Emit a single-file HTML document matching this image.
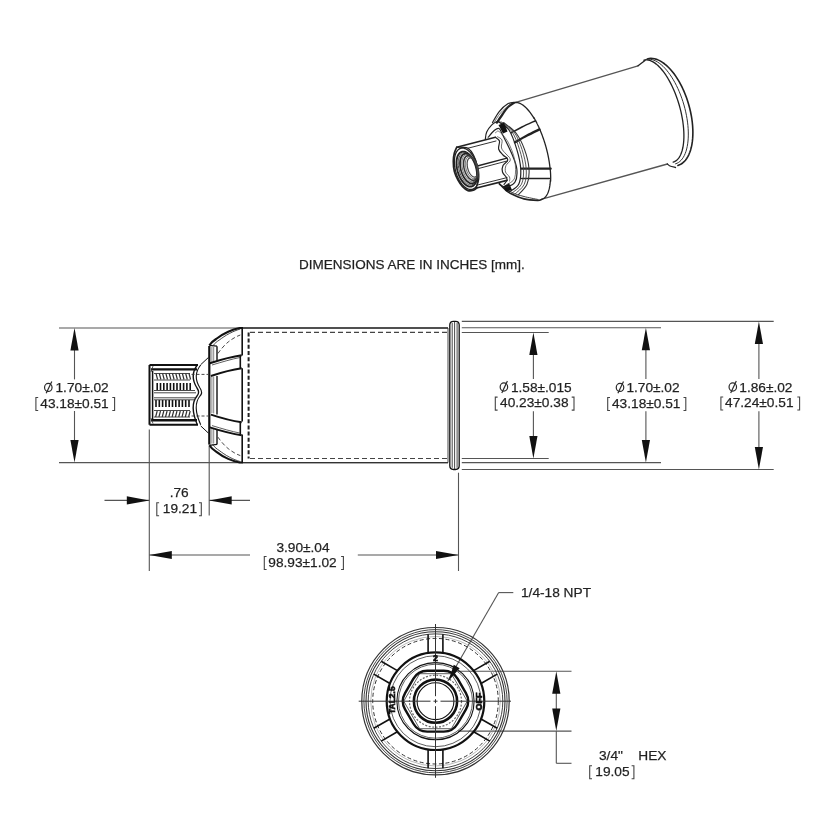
<!DOCTYPE html>
<html><head><meta charset="utf-8"><style>
html,body{margin:0;padding:0;background:#fff;width:826px;height:826px;overflow:hidden}
svg{display:block;will-change:transform}
text{font-family:"Liberation Sans",sans-serif;fill:#1e1e1e;stroke:#2a2a2a;stroke-width:0.25}
.d{stroke:#555;stroke-width:1.1;fill:none}
.o{stroke:#111;stroke-width:1.3;fill:none}
.ob{stroke:#111;stroke-width:2;fill:none}
.t{stroke:#333;stroke-width:0.8;fill:none}
.dash{stroke:#333;stroke-width:1.2;fill:none;stroke-dasharray:5 3}
.ah{fill:#111;stroke:none}
</style></head><body>
<svg width="826" height="826" viewBox="0 0 826 826">
<rect width="826" height="826" fill="#fff"/>

<text x="299.00" y="268.80" font-size="13.5" text-anchor="start" >DIMENSIONS ARE IN INCHES [mm].</text>
<line class="d" x1="59.00" y1="328.00" x2="448.00" y2="328.00"/>
<line class="d" x1="59.00" y1="462.60" x2="448.00" y2="462.60"/>
<line class="d" x1="74.50" y1="338.00" x2="74.50" y2="379.40"/>
<line class="d" x1="74.50" y1="411.00" x2="74.50" y2="452.60"/>
<path class="ah" d="M74.50 328.00 L78.60 350.50 L70.40 350.50Z"/>
<path class="ah" d="M74.50 462.60 L70.40 440.10 L78.60 440.10Z"/>
<ellipse cx="48.30" cy="387.40" rx="3.75" ry="4.05" style="stroke:#2a2a2a;stroke-width:1.2;fill:none"/>
<line x1="46.20" y1="393.30" x2="51.80" y2="381.40" style="stroke:#2a2a2a;stroke-width:1.2"/>
<text x="55.50" y="392.00" font-size="13.7" text-anchor="start" >1.70±.02</text>
<path d="M38.20 397.50 H35.90 V410.50 H38.20" style="stroke:#444;stroke-width:1.1;fill:none"/>
<text x="40.30" y="407.70" font-size="13.7" text-anchor="start" >43.18±0.51</text>
<path d="M112.30 397.50 H114.60 V410.50 H112.30" style="stroke:#444;stroke-width:1.1;fill:none"/>
<line class="d" x1="461.80" y1="321.40" x2="773.70" y2="321.40"/>
<line class="d" x1="461.80" y1="327.70" x2="661.00" y2="327.70"/>
<line class="d" x1="461.80" y1="332.50" x2="548.70" y2="332.50"/>
<line class="d" x1="461.80" y1="458.50" x2="548.70" y2="458.50"/>
<line class="d" x1="461.80" y1="462.60" x2="661.00" y2="462.60"/>
<line class="d" x1="461.80" y1="469.50" x2="773.70" y2="469.50"/>
<line class="d" x1="533.40" y1="342.50" x2="533.40" y2="379.00"/>
<line class="d" x1="533.40" y1="411.30" x2="533.40" y2="448.50"/>
<path class="ah" d="M533.40 332.50 L537.50 355.00 L529.30 355.00Z"/>
<path class="ah" d="M533.40 458.50 L529.30 436.00 L537.50 436.00Z"/>
<line class="d" x1="645.90" y1="337.70" x2="645.90" y2="379.00"/>
<line class="d" x1="645.90" y1="411.30" x2="645.90" y2="452.60"/>
<path class="ah" d="M645.90 327.70 L650.00 350.20 L641.80 350.20Z"/>
<path class="ah" d="M645.90 462.60 L641.80 440.10 L650.00 440.10Z"/>
<line class="d" x1="758.90" y1="331.40" x2="758.90" y2="379.00"/>
<line class="d" x1="758.90" y1="411.30" x2="758.90" y2="459.50"/>
<path class="ah" d="M758.90 321.40 L763.00 343.90 L754.80 343.90Z"/>
<path class="ah" d="M758.90 469.50 L754.80 447.00 L763.00 447.00Z"/>
<ellipse cx="503.90" cy="387.00" rx="3.75" ry="4.05" style="stroke:#2a2a2a;stroke-width:1.2;fill:none"/>
<line x1="501.80" y1="392.90" x2="507.40" y2="381.00" style="stroke:#2a2a2a;stroke-width:1.2"/>
<text x="510.90" y="391.60" font-size="13.7" text-anchor="start" >1.58±.015</text>
<path d="M497.60 397.10 H495.30 V410.10 H497.60" style="stroke:#444;stroke-width:1.1;fill:none"/>
<text x="500.10" y="407.30" font-size="13.7" text-anchor="start" >40.23±0.38</text>
<path d="M571.70 397.10 H574.00 V410.10 H571.70" style="stroke:#444;stroke-width:1.1;fill:none"/>
<ellipse cx="620.00" cy="387.40" rx="3.75" ry="4.05" style="stroke:#2a2a2a;stroke-width:1.2;fill:none"/>
<line x1="617.90" y1="393.30" x2="623.50" y2="381.40" style="stroke:#2a2a2a;stroke-width:1.2"/>
<text x="626.40" y="392.00" font-size="13.7" text-anchor="start" >1.70±.02</text>
<path d="M610.00 397.50 H607.70 V410.50 H610.00" style="stroke:#444;stroke-width:1.1;fill:none"/>
<text x="612.00" y="407.70" font-size="13.7" text-anchor="start" >43.18±0.51</text>
<path d="M683.50 397.50 H685.80 V410.50 H683.50" style="stroke:#444;stroke-width:1.1;fill:none"/>
<ellipse cx="732.80" cy="387.00" rx="3.75" ry="4.05" style="stroke:#2a2a2a;stroke-width:1.2;fill:none"/>
<line x1="730.70" y1="392.90" x2="736.30" y2="381.00" style="stroke:#2a2a2a;stroke-width:1.2"/>
<text x="739.30" y="391.60" font-size="13.7" text-anchor="start" >1.86±.02</text>
<path d="M723.20 397.00 H720.90 V410.00 H723.20" style="stroke:#444;stroke-width:1.1;fill:none"/>
<text x="725.10" y="407.20" font-size="13.7" text-anchor="start" >47.24±0.51</text>
<path d="M797.30 397.00 H799.60 V410.00 H797.30" style="stroke:#444;stroke-width:1.1;fill:none"/>
<line class="d" x1="149.30" y1="429.50" x2="149.30" y2="571.00"/>
<line class="d" x1="209.20" y1="446.00" x2="209.20" y2="515.50"/>
<line class="d" x1="104.50" y1="500.40" x2="149.30" y2="500.40"/>
<path class="ah" d="M149.30 500.40 L126.80 504.50 L126.80 496.30Z"/>
<line class="d" x1="209.20" y1="500.40" x2="250.00" y2="500.40"/>
<path class="ah" d="M209.20 500.40 L231.70 496.30 L231.70 504.50Z"/>
<text x="169.70" y="497.40" font-size="13.7" text-anchor="start" >.76</text>
<path d="M159.10 502.80 H156.80 V515.80 H159.10" style="stroke:#444;stroke-width:1.1;fill:none"/>
<text x="162.80" y="513.00" font-size="13.7" text-anchor="start" >19.21</text>
<path d="M199.00 502.80 H201.30 V515.80 H199.00" style="stroke:#444;stroke-width:1.1;fill:none"/>
<line class="d" x1="458.50" y1="472.70" x2="458.50" y2="571.00"/>
<line class="d" x1="149.30" y1="555.00" x2="250.00" y2="555.00"/>
<path class="ah" d="M149.30 555.00 L171.80 550.90 L171.80 559.10Z"/>
<line class="d" x1="357.80" y1="555.00" x2="458.50" y2="555.00"/>
<path class="ah" d="M458.50 555.00 L436.00 559.10 L436.00 550.90Z"/>
<text x="276.40" y="551.70" font-size="13.7" text-anchor="start" >3.90±.04</text>
<path d="M266.60 556.50 H264.30 V569.50 H266.60" style="stroke:#444;stroke-width:1.1;fill:none"/>
<text x="268.30" y="566.70" font-size="13.7" text-anchor="start" >98.93±1.02</text>
<path d="M341.10 556.50 H343.40 V569.50 H341.10" style="stroke:#444;stroke-width:1.1;fill:none"/>
<text x="521.00" y="596.60" font-size="13.7" text-anchor="start" >1/4-18 NPT</text>
<line class="d" x1="513.30" y1="592.60" x2="498.70" y2="592.60"/>
<line class="d" x1="498.70" y1="592.60" x2="447.80" y2="680.80"/>
<line class="d" x1="458.00" y1="671.30" x2="571.50" y2="671.30"/>
<line class="d" x1="458.00" y1="731.10" x2="571.50" y2="731.10"/>
<line class="d" x1="556.30" y1="690.00" x2="556.30" y2="712.00"/>
<path class="ah" d="M556.30 671.30 L560.40 693.80 L552.20 693.80Z"/>
<path class="ah" d="M556.30 731.10 L552.20 708.60 L560.40 708.60Z"/>
<line class="d" x1="556.30" y1="731.10" x2="556.30" y2="763.30"/>
<line class="d" x1="556.30" y1="763.30" x2="571.50" y2="763.30"/>
<text x="599.00" y="759.80" font-size="13.7" text-anchor="start" >3/4"</text>
<text x="638.30" y="759.80" font-size="13.7" text-anchor="start" >HEX</text>
<path d="M592.00 765.70 H589.70 V778.70 H592.00" style="stroke:#444;stroke-width:1.1;fill:none"/>
<text x="595.30" y="775.90" font-size="13.7" text-anchor="start" >19.05</text>
<path d="M631.60 765.70 H633.90 V778.70 H631.60" style="stroke:#444;stroke-width:1.1;fill:none"/>
<path class="dash" d="M250 332.4 H448 M250 458.5 H448" style="stroke-dasharray:5 3;stroke-width:1.2;stroke:#444"/>
<path class="dash" d="M248.6 332.4 V458.5" style="stroke-dasharray:4 2.2;stroke-width:2.0;stroke:#222"/>
<path class="o" d="M243 328 H448 M243 462.6 H448" style="stroke-width:1.3;stroke:#333"/>
<path class="o" d="M242.2 328 V355.4 M242.2 368.3 V421.4 M242.2 434.5 V462.6" style="stroke-width:1.6"/>
<path class="o" d="M240.3 355.4 V368.3 M240.3 421.4 V434.5" style="stroke-width:1.6"/>
<path class="ob" d="M209.3 346 V444.6" style="stroke-width:2.2"/>
<path class="t" d="M211.9 347 V362.8 M213.7 347 V362.3 M211.9 428 V443.6 M213.7 428.5 V443.6 M211.9 377 V413 M213.7 376.6 V413.4" style="stroke-width:0.9;stroke:#777"/>
<path class="o" d="M217 346.2 V361.3 M217 429.3 V444.4 M217 376 V414.6" style="stroke-width:1.4"/>
<path class="o" d="M209.4 345.3 L217 346.2 M209.4 445.3 L217 444.4" style="stroke-width:1.3"/>
<path class="ob" d="M209.4 345.3 C211 342.5 213 341 216.1 339 C220 336 224 333.5 228.2 331.7 C232 330 236 328.8 239.7 328.05 H243" style="stroke-width:2.1"/>
<path class="t" d="M212.5 346.2 C215 343 217 341.5 219.1 340.2 C222 338 225.5 335.5 229.4 333.5 C233 331.5 237 330 240.3 329" style="stroke-width:0.9"/>
<path class="ob" d="M209.4 445.3 C211 448.1 213 449.6 216.1 451.6 C220 454.6 224 457.1 228.2 458.9 C232 460.6 236 461.8 239.7 462.55 H243" style="stroke-width:2.1"/>
<path class="t" d="M212.5 444.4 C215 447.6 217 449.1 219.1 450.4 C222 452.6 225.5 455.1 229.4 457.1 C233 459.1 237 460.6 240.3 461.6" style="stroke-width:0.9"/>
<path class="dash" d="M217.9 353.5 C221 349 225 344.5 228.2 342 C232 339 236 336.5 240.3 335" style="stroke-width:0.9;stroke-dasharray:4 2.5"/>
<path class="dash" d="M217.9 437.1 C221 441.6 225 446.1 228.2 448.6 C232 451.6 236 454.1 240.3 455.6" style="stroke-width:0.9;stroke-dasharray:4 2.5"/>
<path class="ob" d="M209.8 363.2 C220 360 230 357 241.7 355.3" />
<path class="ob" d="M210.9 376 C220 373 230 370 241.7 368.3" />
<path class="ob" d="M209.8 427.4 C220 430.6 230 433.6 241.7 435.3" />
<path class="ob" d="M210.9 414.6 C220 417.6 230 420.6 241.7 422.3" />
<path class="t" d="M212 365 C222 362 232 359 240 357.5" />
<path class="t" d="M212 425.6 C222 428.6 232 431.6 240 433.1" />
<path class="o" d="M200.7 364.7 L208.5 357.4 M200.7 425.9 L208.5 433.2" style="stroke-width:1.0"/>
<path class="ob" d="M149.5 364.9 H198 M149.5 424.7 H198 M149.5 364.9 V424.7" />
<path class="ob" d="M151 369.4 H197 M151 420.3 H197" style="stroke-width:2.4"/>
<path class="t" d="M151 372 L153 366 M151 418 L153 423.6" />
<path class="o" d="M197.3 365 C192 372 192 380 197 388 C199 391 199 394 197 396 C192 402 192 412 197.3 424.7" style="stroke-width:1.4"/>
<path class="o" d="M200.7 365 C195 372 195 380 200 388 C202 391 202 394 200 396 C195 402 195 412 200.7 424.7" style="stroke-width:1.1"/>
<path class="dash" d="M191.5 374.4 H208 M191.5 416 H208" style="stroke-width:0.9;stroke-dasharray:3 2"/>
<path class="o" d="M157.2 383 V390 M156.0 400 V407 M160.5 383 V390 M159.3 400 V407 M163.8 383 V390 M162.6 400 V407 M167.1 383 V390 M165.9 400 V407 M170.4 383 V390 M169.2 400 V407 M173.7 383 V390 M172.5 400 V407 M177.0 383 V390 M175.8 400 V407 M180.3 383 V390 M179.1 400 V407 M183.6 383 V390 M182.4 400 V407 M186.9 383 V390 M185.7 400 V407 M190.2 383 V390 M189.0 400 V407" style="stroke-width:1.6"/>
<path class="o" d="M156.0 373.5 L157.6 379.5 M157.2 411 L155.6 417 M159.3 373.5 L160.9 379.5 M160.5 411 L158.9 417 M162.6 373.5 L164.2 379.5 M163.8 411 L162.2 417 M165.9 373.5 L167.5 379.5 M167.1 411 L165.5 417 M169.2 373.5 L170.8 379.5 M170.4 411 L168.8 417 M172.5 373.5 L174.1 379.5 M173.7 411 L172.1 417 M175.8 373.5 L177.4 379.5 M177.0 411 L175.4 417 M179.1 373.5 L180.7 379.5 M180.3 411 L178.7 417 M182.4 373.5 L184.0 379.5 M183.6 411 L182.0 417 M185.7 373.5 L187.3 379.5 M186.9 411 L185.3 417 M189.0 373.5 L190.6 379.5 M190.2 411 L188.6 417" style="stroke-width:1.2;stroke:#333"/>
<path class="t" d="M154 373.5 H190 M154 380 H190 M154 390.5 H195 M154 392.8 H196 M154 397.8 H196 M154 399.8 H195 M154 410.5 H190 M154 417 H190" style="stroke-width:0.9"/>
<path class="o" d="M152.6 371 V419" style="stroke-width:1.5"/>
<path class="o" d="M449.8 462.6 V325 Q449.8 321.3 453.5 321.3 H455.5 Q459.2 321.3 459.2 325 V465.8 Q459.2 469.5 455.5 469.5 H453.5 Q449.8 469.5 449.8 465.8 V462.6" style="stroke-width:1.3"/>
<path class="t" d="M448 328 V462.6 M452.2 323 V467.8 M454.6 322 V469 M457.1 323 V467.8" style="stroke-width:0.9"/>
<circle class="o" cx="435.5" cy="701.2" r="73.7" style="stroke-width:1.2;stroke:#333"/>
<circle class="t" cx="435.5" cy="701.2" r="71.6" style="stroke-width:1.0;stroke:#444"/>
<circle class="o" cx="435.5" cy="701.2" r="69.5" style="stroke-width:1.1;stroke:#333"/>
<circle class="t" cx="435.5" cy="701.2" r="67.3" style="stroke-width:1.0;stroke:#444"/>
<circle class="t" cx="435.5" cy="701.2" r="64.8" style="stroke-width:0.6;stroke:#888"/>
<circle class="dash" cx="435.5" cy="701.2" r="62.8" style="stroke-width:1.0;stroke-dasharray:4 2.5"/>
<path class="o" d="M442.90 652.40 L442.90 634.20 M428.10 652.40 L428.10 634.20 M481.46 683.21 L497.22 674.11 M474.06 670.39 L489.82 661.29 M474.06 732.01 L489.82 741.11 M481.46 719.19 L497.22 728.29 M428.10 750.00 L428.10 768.20 M442.90 750.00 L442.90 768.20 M389.54 719.19 L373.78 728.29 M396.94 732.01 L381.18 741.11 M396.94 670.39 L381.18 661.29 M389.54 683.21 L373.78 674.11" style="stroke-width:1.6"/>
<circle class="o" cx="435.5" cy="701.2" r="48.8" style="stroke-width:2.2"/>
<circle class="t" cx="435.5" cy="701.2" r="45.5" style="stroke-width:0.8"/>
<circle class="o" cx="435.5" cy="701.2" r="38.6" style="stroke-width:1.1"/>
<circle class="t" cx="435.5" cy="701.2" r="37.0" style="stroke-width:0.8"/>
<path class="ob" d="M465.93 709.30 L457.73 723.50 Q453.05 731.60 443.70 731.60 L427.30 731.60 Q417.95 731.60 413.27 723.50 L405.07 709.30 Q400.40 701.20 405.07 693.10 L413.27 678.90 Q417.95 670.80 427.30 670.80 L443.70 670.80 Q453.05 670.80 457.73 678.90 L465.93 693.10 Q470.60 701.20 465.93 709.30 Z" style="stroke-width:2.4"/>
<path class="t" d="M467.25 701.20 L451.38 728.70 L419.62 728.70 L403.75 701.20 L419.62 673.70 L451.38 673.70Z" style="stroke-width:0.8"/>
<circle class="dash" cx="435.5" cy="701.2" r="26.0" style="stroke-width:1.2;stroke-dasharray:2 1.5;stroke:#666"/>
<circle class="ob" cx="435.5" cy="701.2" r="21.6" style="stroke-width:2.6"/>
<circle class="o" cx="435.5" cy="701.2" r="18.4" style="stroke-width:1.1"/>
<path class="d" d="M358.7 701.2 H430.5 M433.5 701.2 H437.5 M440.5 701.2 H511 M435.5 624 V696.2 M435.5 699.2 V703.2 M435.5 706.2 V777.8" style="stroke:#333;stroke-width:1.0"/>
<path class="ah" d="M448.30 681.30 L453.76 664.85 L459.67 668.21Z"/>
<text x="435.5" y="661" font-size="9" font-weight="bold" text-anchor="middle" style="fill:#111;stroke:#111;stroke-width:0.6">2</text>
<text x="0" y="0" font-size="8.5" font-weight="bold" text-anchor="middle" transform="translate(395.3 700.2) rotate(-90)" style="fill:#111;stroke:#111;stroke-width:0.6">TAL2.5</text>
<text x="0" y="0" font-size="9" font-weight="bold" text-anchor="middle" transform="translate(482.2 701.4) rotate(-90)" style="fill:#111;stroke:#111;stroke-width:0.6">OFF</text>
<path d="M514.10 102.80 L638.00 65.80" style="fill:none;stroke:#555;stroke-width:1.3;stroke-linecap:round"/>
<path d="M541.90 199.20 L667.40 164.00" style="fill:none;stroke:#555;stroke-width:1.3;stroke-linecap:round"/>
<path d="M643.99 60.25 L645.37 59.97 L646.81 59.92 L648.30 60.08 L649.84 60.46 L651.41 61.05 L653.01 61.86 L654.64 62.89 L656.28 64.12 L657.94 65.55 L659.59 67.17 L661.24 68.99 L662.88 70.98 L664.51 73.15 L666.10 75.48 L667.67 77.97 L669.19 80.59 L670.67 83.35 L672.10 86.23 L673.47 89.21 L674.78 92.29 L676.02 95.45 L677.18 98.67 L678.27 101.95 L679.27 105.27 L680.18 108.62 L681.00 111.97 L681.72 115.33 L682.34 118.66 L682.87 121.96 L683.28 125.22 L683.60 128.42 L683.80 131.54 L683.90 134.58 L683.89 137.51 L683.77 140.34 L683.54 143.03 L683.21 145.60 L682.77 148.01 L682.23 150.27 L681.59 152.36 L680.84 154.27 L680.01 156.00 L679.08 157.54 L678.06 158.88 L676.96 160.01 L675.78 160.94 L674.53 161.65 L673.21 162.15" style="fill:none;stroke:#222;stroke-width:1.3;stroke-linejoin:round;stroke-linecap:round"/>
<path d="M645.66 59.60 L647.22 59.27 L648.84 59.17 L650.50 59.29 L652.22 59.64 L653.96 60.21 L655.74 61.00 L657.53 62.01 L659.34 63.23 L661.16 64.66 L662.97 66.29 L664.77 68.11 L666.55 70.12 L668.31 72.31 L670.04 74.67 L671.72 77.19 L673.36 79.85 L674.94 82.65 L676.46 85.57 L677.92 88.61 L679.30 91.75 L680.60 94.97 L681.81 98.26 L682.93 101.61 L683.96 105.00 L684.89 108.42 L685.71 111.86 L686.42 115.29 L687.03 118.71 L687.52 122.10 L687.90 125.45 L688.16 128.74 L688.30 131.95 L688.32 135.08 L688.23 138.10 L688.01 141.02 L687.68 143.80 L687.23 146.45 L686.67 148.96 L686.00 151.30 L685.22 153.47 L684.33 155.46 L683.34 157.27 L682.26 158.88 L681.08 160.29 L679.81 161.49 L678.46 162.48 L677.04 163.25 L675.54 163.80" style="fill:none;stroke:#333;stroke-width:1.0;stroke-linejoin:round;stroke-linecap:round"/>
<path d="M647.33 58.95 L649.07 58.57 L650.87 58.42 L652.72 58.51 L654.62 58.82 L656.54 59.36 L658.50 60.13 L660.47 61.12 L662.45 62.33 L664.43 63.76 L666.40 65.39 L668.36 67.22 L670.29 69.24 L672.19 71.45 L674.05 73.83 L675.86 76.38 L677.61 79.08 L679.30 81.92 L680.91 84.89 L682.45 87.98 L683.90 91.18 L685.26 94.46 L686.53 97.82 L687.69 101.24 L688.75 104.70 L689.69 108.20 L690.52 111.72 L691.22 115.24 L691.81 118.74 L692.27 122.22 L692.60 125.65 L692.80 129.03 L692.88 132.33 L692.82 135.55 L692.64 138.67 L692.33 141.68 L691.89 144.55 L691.32 147.30 L690.63 149.89 L689.82 152.31 L688.90 154.57 L687.86 156.65 L686.71 158.53 L685.46 160.22 L684.12 161.70 L682.68 162.97 L681.15 164.02 L679.55 164.85 L677.87 165.45" style="fill:none;stroke:#222;stroke-width:1.6;stroke-linejoin:round;stroke-linecap:round"/>
<path d="M638.00 65.80 C638.50 65.42 639.83 64.38 641.00 63.50 C642.17 62.62 644.33 61.00 645.00 60.50 " style="fill:none;stroke:#222;stroke-width:1.3;stroke-linecap:round;stroke-linejoin:round"/>
<path d="M667.40 164.00 C667.83 164.33 668.65 165.42 670.00 166.00 C671.35 166.58 674.58 167.25 675.50 167.50 " style="fill:none;stroke:#222;stroke-width:1.3;stroke-linecap:round;stroke-linejoin:round"/>
<path d="M514.16 102.74 L514.51 102.65 L514.87 102.58 L515.23 102.53 L515.59 102.50 L515.96 102.48 L516.34 102.48 L516.72 102.50 L517.10 102.55 L517.49 102.60 L517.88 102.68 L518.28 102.78 L518.67 102.89 L519.08 103.03 L519.48 103.18 L519.89 103.35 L520.31 103.54 L520.72 103.75 L521.14 103.97 L521.56 104.22 L521.98 104.48 L522.41 104.76 L522.84 105.05 L523.27 105.37 L523.70 105.70 L524.13 106.05 L524.57 106.42 L525.01 106.80 L525.44 107.21 L525.88 107.62 L526.32 108.06 L526.76 108.51 L527.20 108.98 L527.64 109.46 L528.08 109.96 L528.52 110.48 L528.97 111.01 L529.41 111.56 L529.85 112.12 L530.28 112.70 L530.72 113.29 L531.16 113.90 L531.60 114.52 L532.03 115.16 L532.46 115.80 L532.89 116.47 L533.32 117.14 L533.75 117.83 L534.18 118.53" style="fill:none;stroke:#222;stroke-width:1.3;stroke-linejoin:round;stroke-linecap:round"/>
<path d="M533.97 117.80 L534.11 118.04 L534.25 118.29 L534.39 118.53 L534.54 118.78 L534.68 119.03 L534.82 119.28 L534.96 119.53 L535.10 119.78 L535.24 120.04 L535.38 120.29 L535.52 120.55 L535.66 120.81 L535.80 121.07 L535.94 121.33 L536.08 121.59 L536.22 121.86 L536.36 122.12 L536.50 122.39 L536.63 122.65 L536.77 122.92 L536.91 123.19 L537.04 123.46 L537.18 123.73 L537.31 124.01 L537.45 124.28 L537.58 124.56 L537.72 124.83 L537.85 125.11 L537.99 125.39 L538.12 125.67 L538.25 125.95 L538.38 126.23 L538.52 126.51 L538.65 126.80 L538.78 127.08 L538.91 127.37 L539.04 127.66 L539.17 127.94 L539.30 128.23 L539.43 128.52 L539.55 128.82 L539.68 129.11 L539.81 129.40 L539.93 129.69 L540.06 129.99 L540.19 130.28 L540.31 130.58 L540.43 130.88" style="fill:none;stroke:#222;stroke-width:1.3;stroke-linejoin:round;stroke-linecap:round"/>
<path d="M540.55 131.26 L540.86 132.02 L541.17 132.78 L541.48 133.55 L541.78 134.33 L542.08 135.10 L542.38 135.89 L542.67 136.67 L542.96 137.46 L543.24 138.26 L543.52 139.06 L543.79 139.86 L544.06 140.66 L544.33 141.47 L544.59 142.28 L544.84 143.10 L545.09 143.91 L545.34 144.73 L545.58 145.55 L545.81 146.37 L546.04 147.19 L546.27 148.02 L546.49 148.84 L546.70 149.67 L546.91 150.49 L547.11 151.32 L547.31 152.14 L547.50 152.97 L547.69 153.79 L547.87 154.62 L548.05 155.44 L548.22 156.26 L548.38 157.08 L548.54 157.90 L548.69 158.72 L548.83 159.53 L548.97 160.34 L549.11 161.15 L549.23 161.96 L549.36 162.76 L549.47 163.56 L549.58 164.35 L549.68 165.15 L549.78 165.93 L549.87 166.72 L549.95 167.50 L550.03 168.27 L550.10 169.04 L550.17 169.80" style="fill:none;stroke:#222;stroke-width:1.3;stroke-linejoin:round;stroke-linecap:round"/>
<path d="M550.34 170.40 L550.36 170.64 L550.38 170.88 L550.40 171.12 L550.42 171.36 L550.43 171.60 L550.45 171.83 L550.47 172.07 L550.48 172.31 L550.50 172.54 L550.51 172.78 L550.53 173.01 L550.54 173.24 L550.55 173.48 L550.57 173.71 L550.58 173.94 L550.59 174.17 L550.60 174.40 L550.61 174.63 L550.62 174.86 L550.63 175.09 L550.63 175.32 L550.64 175.54 L550.65 175.77 L550.65 176.00 L550.66 176.22 L550.66 176.44 L550.67 176.67 L550.67 176.89 L550.67 177.11 L550.68 177.33 L550.68 177.56 L550.68 177.78 L550.68 177.99 L550.68 178.21 L550.68 178.43 L550.68 178.65 L550.67 178.86 L550.67 179.08 L550.67 179.29 L550.66 179.51 L550.66 179.72 L550.65 179.93 L550.65 180.15 L550.64 180.36 L550.64 180.57 L550.63 180.78 L550.62 180.98 L550.61 181.19" style="fill:none;stroke:#222;stroke-width:1.3;stroke-linejoin:round;stroke-linecap:round"/>
<path d="M550.37 180.34 L550.33 180.99 L550.28 181.63 L550.23 182.27 L550.18 182.90 L550.11 183.51 L550.04 184.12 L549.97 184.72 L549.88 185.31 L549.80 185.89 L549.70 186.46 L549.60 187.02 L549.49 187.56 L549.38 188.10 L549.26 188.63 L549.13 189.14 L549.00 189.65 L548.86 190.14 L548.72 190.62 L548.56 191.10 L548.41 191.55 L548.25 192.00 L548.08 192.44 L547.90 192.86 L547.72 193.27 L547.54 193.67 L547.35 194.06 L547.15 194.43 L546.95 194.79 L546.74 195.14 L546.53 195.48 L546.31 195.80 L546.08 196.11 L545.85 196.41 L545.62 196.70 L545.38 196.97 L545.14 197.22 L544.89 197.47 L544.63 197.70 L544.37 197.92 L544.11 198.12 L543.84 198.31 L543.57 198.49 L543.29 198.65 L543.01 198.80 L542.72 198.93 L542.43 199.05 L542.14 199.16 L541.84 199.26" style="fill:none;stroke:#222;stroke-width:1.3;stroke-linejoin:round;stroke-linecap:round"/>
<path d="M511.40 132.80 C513.17 131.83 517.98 129.02 522.00 127.00 C526.02 124.98 533.25 121.75 535.50 120.70 " style="fill:none;stroke:#222;stroke-width:1.5;stroke-linecap:round;stroke-linejoin:round"/>
<path d="M515.00 142.30 C517.00 141.17 522.93 137.65 527.00 135.50 C531.07 133.35 537.33 130.42 539.40 129.40 " style="fill:none;stroke:#222;stroke-width:2.4;stroke-linecap:round;stroke-linejoin:round"/>
<path d="M521.60 168.70 C523.83 168.70 530.15 168.70 535.00 168.70 C539.85 168.70 548.08 168.70 550.70 168.70 " style="fill:none;stroke:#222;stroke-width:2.2;stroke-linecap:round;stroke-linejoin:round"/>
<path d="M521.60 178.40 C523.83 178.43 530.32 178.60 535.00 178.60 C539.68 178.60 547.25 178.43 549.70 178.40 " style="fill:none;stroke:#222;stroke-width:1.5;stroke-linecap:round;stroke-linejoin:round"/>
<path d="M492.50 122.70 C493.58 120.88 496.45 114.95 499.00 111.80 C501.55 108.65 505.10 105.38 507.80 103.80 C510.50 102.22 513.97 102.55 515.20 102.30 " style="fill:none;stroke:#222;stroke-width:1.2;stroke-linecap:round;stroke-linejoin:round"/>
<path d="M496.90 122.70 C497.87 121.25 500.85 116.62 502.70 114.00 C504.55 111.38 506.18 108.82 508.00 107.00 C509.82 105.18 512.67 103.75 513.60 103.10 " style="fill:none;stroke:#222;stroke-width:2.2;stroke-linecap:round;stroke-linejoin:round"/>
<path d="M494.00 122.70 C495.08 121.08 497.83 116.03 500.50 113.00 C503.17 109.97 508.42 105.92 510.00 104.50 " style="fill:none;stroke:#555;stroke-width:0.8;stroke-linecap:round;stroke-linejoin:round"/>
<path d="M499.30 183.60 C500.25 184.58 503.02 187.80 505.00 189.50 C506.98 191.20 508.05 192.23 511.20 193.80 C514.35 195.37 519.52 197.80 523.90 198.90 C528.28 200.00 534.57 200.30 537.50 200.40 C540.43 200.50 540.83 199.65 541.50 199.50 " style="fill:none;stroke:#222;stroke-width:1.6;stroke-linecap:round;stroke-linejoin:round"/>
<path d="M503.00 186.00 C504.50 187.08 508.50 190.75 512.00 192.50 C515.50 194.25 519.67 195.33 524.00 196.50 C528.33 197.67 535.67 199.00 538.00 199.50 " style="fill:none;stroke:#444;stroke-width:1.0;stroke-linecap:round;stroke-linejoin:round"/>
<path d="M497.60 121.20 C499.50 122.67 505.80 125.30 509.00 130.00 C512.20 134.70 514.85 142.95 516.80 149.40 C518.75 155.85 520.38 162.90 520.70 168.70 C521.02 174.50 520.65 180.32 518.70 184.20 C516.75 188.08 510.62 190.70 509.00 192.00 " style="fill:none;stroke:#222;stroke-width:1.2;stroke-linecap:round;stroke-linejoin:round"/>
<path d="M499.60 121.50 C501.58 123.08 508.18 126.35 511.50 131.00 C514.82 135.65 517.50 143.12 519.50 149.40 C521.50 155.68 523.17 162.90 523.50 168.70 C523.83 174.50 523.42 180.15 521.50 184.20 C519.58 188.25 513.58 191.53 512.00 193.00 " style="fill:none;stroke:#444;stroke-width:0.9;stroke-linecap:round;stroke-linejoin:round"/>
<path d="M501.60 122.00 C503.67 123.67 510.60 127.43 514.00 132.00 C517.40 136.57 519.97 143.28 522.00 149.40 C524.03 155.52 525.82 162.90 526.20 168.70 C526.58 174.50 526.17 179.98 524.30 184.20 C522.43 188.42 516.55 192.37 515.00 194.00 " style="fill:none;stroke:#444;stroke-width:0.9;stroke-linecap:round;stroke-linejoin:round"/>
<path d="M503.60 122.50 C505.67 124.25 512.52 128.52 516.00 133.00 C519.48 137.48 522.33 143.45 524.50 149.40 C526.67 155.35 528.58 162.90 529.00 168.70 C529.42 174.50 528.83 179.82 527.00 184.20 C525.17 188.58 519.50 193.20 518.00 195.00 " style="fill:none;stroke:#333;stroke-width:1.1;stroke-linecap:round;stroke-linejoin:round"/>
<path d="M498.5 125 L504 122.7 L507.5 131.5 L503 133.5 Z" style="fill:#111"/>
<path d="M503 186.5 L509 183 L512 190 L506 191.5 Z" style="fill:#111"/>
<path d="M485.30 139.40 C485.53 138.18 485.62 134.52 486.70 132.10 C487.78 129.68 489.98 126.72 491.80 124.90 C493.62 123.08 496.63 121.82 497.60 121.20 " style="fill:none;stroke:#222;stroke-width:1.2;stroke-linecap:round;stroke-linejoin:round"/>
<path d="M488.20 137.20 C489.17 136.12 492.20 132.15 494.00 130.70 C495.80 129.25 497.48 127.65 499.00 128.50 C500.52 129.35 500.93 131.52 503.10 135.80 C505.27 140.08 509.72 148.72 512.00 154.20 C514.28 159.68 516.32 164.02 516.80 168.70 C517.28 173.38 516.83 179.23 514.90 182.30 C512.97 185.37 507.78 186.78 505.20 187.10 C502.62 187.42 500.37 184.68 499.40 184.20 " style="fill:none;stroke:#222;stroke-width:1.2;stroke-linecap:round;stroke-linejoin:round"/>
<path d="M495.50 133.00 C496.08 132.75 496.92 130.00 499.00 131.50 C501.08 133.00 505.38 137.25 508.00 142.00 C510.62 146.75 513.58 154.00 514.70 160.00 C515.82 166.00 515.98 173.92 514.70 178.00 C513.42 182.08 508.28 183.42 507.00 184.50 " style="fill:none;stroke:#555;stroke-width:0.8;stroke-linecap:round;stroke-linejoin:round"/>
<path d="M456.70 147.30 L495.40 137.30" style="fill:none;stroke:#222;stroke-width:1.6;stroke-linecap:round"/>
<path d="M468.00 148.20 L496.00 141.00" style="fill:none;stroke:#333;stroke-width:1.0;stroke-linecap:round"/>
<path d="M477.30 166.00 L507.00 158.10" style="fill:none;stroke:#222;stroke-width:1.3;stroke-linecap:round"/>
<path d="M477.50 168.80 L507.00 161.00" style="fill:none;stroke:#333;stroke-width:1.0;stroke-linecap:round"/>
<path d="M476.60 188.00 L507.00 180.40" style="fill:none;stroke:#222;stroke-width:1.6;stroke-linecap:round"/>
<path d="M476.80 185.20 L507.00 177.60" style="fill:none;stroke:#333;stroke-width:1.0;stroke-linecap:round"/>
<path d="M495.40 137.30 C496.08 137.92 498.97 139.05 499.50 141.00 C500.03 142.95 498.02 146.67 498.60 149.00 C499.18 151.33 501.60 153.48 503.00 155.00 C504.40 156.52 506.25 157.10 507.00 158.10 C507.75 159.10 508.17 159.77 507.50 161.00 C506.83 162.23 503.83 163.67 503.00 165.50 C502.17 167.33 501.92 169.98 502.50 172.00 C503.08 174.02 505.75 176.20 506.50 177.60 C507.25 179.00 507.42 179.25 507.00 180.40 C506.58 181.55 504.50 183.82 504.00 184.50 " style="fill:none;stroke:#222;stroke-width:1.2;stroke-linecap:round;stroke-linejoin:round"/>
<path d="M497.50 136.80 C498.25 137.33 501.33 138.13 502.00 140.00 C502.67 141.87 500.83 145.67 501.50 148.00 C502.17 150.33 504.67 152.42 506.00 154.00 C507.33 155.58 508.83 156.33 509.50 157.50 C510.17 158.67 510.58 159.67 510.00 161.00 C509.42 162.33 506.75 163.67 506.00 165.50 C505.25 167.33 504.92 170.08 505.50 172.00 C506.08 173.92 508.83 175.50 509.50 177.00 C510.17 178.50 509.50 180.33 509.50 181.00 " style="fill:none;stroke:#444;stroke-width:0.8;stroke-linecap:round;stroke-linejoin:round"/>
<path d="M456.70 147.30 C456.30 148.30 454.87 150.97 454.30 153.30 C453.73 155.63 453.30 158.30 453.30 161.30 C453.30 164.30 453.52 168.18 454.30 171.30 C455.08 174.42 456.62 177.45 458.00 180.00 C459.38 182.55 460.93 184.83 462.60 186.60 C464.27 188.37 466.22 189.98 468.00 190.60 C469.78 191.22 471.87 190.73 473.30 190.30 C474.73 189.87 476.05 188.38 476.60 188.00 " style="fill:none;stroke:#222;stroke-width:1.7;stroke-linecap:round;stroke-linejoin:round"/>
<path d="M472.47 189.27 L473.39 188.93 L474.25 188.43 L475.06 187.78 L475.80 186.98 L476.47 186.05 L477.07 184.99 L477.58 183.80 L478.02 182.50 L478.36 181.09 L478.62 179.60 L478.79 178.02 L478.86 176.36 L478.84 174.66 L478.72 172.90 L478.52 171.12 L478.22 169.32 L477.84 167.51 L477.37 165.71 L476.81 163.94 L476.18 162.20 L475.48 160.52 L474.71 158.90 L473.88 157.35 L472.99 155.89 L472.05 154.53 L471.07 153.27 L470.06 152.14 L469.02 151.13 L467.97 150.26 L466.90 149.52 L465.83 148.94 L464.77 148.50 L463.72 148.22 L462.69 148.10 L461.69 148.13 L460.73 148.33 L459.81 148.67 L458.95 149.17 L458.14 149.82 L457.40 150.62 L456.73 151.55 L456.13 152.61 L455.62 153.80 L455.18 155.10 L454.84 156.51 L454.58 158.00 L454.41 159.58 L454.34 161.24 L454.36 162.94 L454.48 164.70 L454.68 166.48 L454.98 168.28 L455.36 170.09 L455.83 171.89 L456.39 173.66 L457.02 175.40 L457.72 177.08 L458.49 178.70 L459.32 180.25 L460.21 181.71 L461.15 183.07 L462.13 184.33 L463.14 185.46 L464.18 186.47 L465.23 187.34 L466.30 188.08 L467.37 188.66 L468.43 189.10 L469.48 189.38 L470.51 189.50 L471.51 189.47 L472.47 189.27" style="fill:none;stroke:#222;stroke-width:1.3;stroke-linejoin:round;stroke-linecap:round"/>
<path d="M456.70 147.30 C457.58 147.30 460.12 147.15 462.00 147.30 C463.88 147.45 466.08 146.92 468.00 148.20 C469.92 149.48 471.95 152.03 473.50 155.00 C475.05 157.97 476.58 162.33 477.30 166.00 C478.02 169.67 477.92 173.33 477.80 177.00 C477.68 180.67 476.80 186.17 476.60 188.00 " style="fill:none;stroke:#222;stroke-width:1.2;stroke-linecap:round;stroke-linejoin:round"/>
<path d="M471.76 186.40 L472.53 186.11 L473.26 185.69 L473.93 185.14 L474.55 184.47 L475.12 183.69 L475.61 182.79 L476.05 181.79 L476.41 180.69 L476.70 179.50 L476.91 178.24 L477.05 176.90 L477.11 175.51 L477.09 174.06 L476.99 172.58 L476.81 171.08 L476.56 169.55 L476.23 168.03 L475.84 166.51 L475.37 165.01 L474.84 163.54 L474.24 162.12 L473.59 160.75 L472.89 159.44 L472.14 158.20 L471.36 157.05 L470.53 155.99 L469.68 155.03 L468.81 154.18 L467.92 153.44 L467.02 152.82 L466.12 152.32 L465.23 151.95 L464.35 151.72 L463.48 151.61 L462.64 151.64 L461.84 151.80 L461.07 152.09 L460.34 152.51 L459.67 153.06 L459.05 153.73 L458.48 154.51 L457.99 155.41 L457.55 156.41 L457.19 157.51 L456.90 158.70 L456.69 159.96 L456.55 161.30 L456.49 162.69 L456.51 164.14 L456.61 165.62 L456.79 167.12 L457.04 168.65 L457.37 170.17 L457.76 171.69 L458.23 173.19 L458.76 174.66 L459.36 176.08 L460.01 177.45 L460.71 178.76 L461.46 180.00 L462.24 181.15 L463.07 182.21 L463.92 183.17 L464.79 184.02 L465.68 184.76 L466.58 185.38 L467.48 185.88 L468.37 186.25 L469.25 186.48 L470.12 186.59 L470.96 186.56 L471.76 186.40" style="fill:none;stroke:#222;stroke-width:1.9;stroke-linejoin:round;stroke-linecap:round"/>
<path d="M472.35 184.83 L473.06 184.56 L473.72 184.17 L474.35 183.67 L474.92 183.05 L475.43 182.32 L475.89 181.49 L476.29 180.57 L476.62 179.55 L476.89 178.46 L477.08 177.29 L477.20 176.05 L477.26 174.76 L477.24 173.43 L477.14 172.06 L476.98 170.66 L476.75 169.26 L476.44 167.84 L476.08 166.44 L475.64 165.05 L475.15 163.70 L474.61 162.38 L474.01 161.11 L473.36 159.90 L472.67 158.76 L471.94 157.69 L471.18 156.71 L470.40 155.82 L469.59 155.03 L468.77 154.35 L467.94 153.77 L467.12 153.31 L466.29 152.97 L465.48 152.75 L464.69 152.65 L463.91 152.67 L463.17 152.82 L462.46 153.09 L461.80 153.48 L461.18 153.98 L460.60 154.60 L460.09 155.33 L459.63 156.16 L459.23 157.08 L458.90 158.10 L458.64 159.19 L458.44 160.36 L458.32 161.60 L458.27 162.89 L458.29 164.22 L458.38 165.59 L458.54 166.98 L458.78 168.39 L459.08 169.80 L459.45 171.21 L459.88 172.59 L460.37 173.95 L460.92 175.27 L461.52 176.54 L462.16 177.75 L462.86 178.89 L463.58 179.96 L464.34 180.94 L465.13 181.83 L465.93 182.62 L466.75 183.30 L467.58 183.88 L468.41 184.34 L469.23 184.68 L470.04 184.90 L470.84 185.00 L471.61 184.98 L472.35 184.83" style="fill:none;stroke:#444;stroke-width:1.0;stroke-linejoin:round;stroke-linecap:round"/>
<path d="M472.94 183.26 L473.59 183.01 L474.19 182.65 L474.76 182.19 L475.28 181.62 L475.75 180.96 L476.17 180.20 L476.53 179.35 L476.83 178.42 L477.07 177.41 L477.25 176.33 L477.36 175.20 L477.41 174.02 L477.39 172.79 L477.30 171.53 L477.15 170.25 L476.93 168.96 L476.66 167.66 L476.32 166.37 L475.92 165.10 L475.47 163.85 L474.97 162.64 L474.42 161.47 L473.82 160.36 L473.19 159.31 L472.52 158.33 L471.83 157.43 L471.11 156.61 L470.37 155.88 L469.62 155.25 L468.87 154.72 L468.11 154.30 L467.36 153.98 L466.61 153.78 L465.89 153.69 L465.18 153.71 L464.51 153.84 L463.86 154.09 L463.25 154.44 L462.68 154.91 L462.16 155.47 L461.69 156.14 L461.27 156.90 L460.91 157.75 L460.61 158.68 L460.37 159.69 L460.19 160.76 L460.08 161.90 L460.04 163.08 L460.06 164.31 L460.14 165.56 L460.30 166.85 L460.51 168.14 L460.79 169.44 L461.13 170.73 L461.53 172.00 L461.98 173.25 L462.48 174.46 L463.03 175.63 L463.62 176.74 L464.25 177.79 L464.92 178.77 L465.62 179.67 L466.33 180.49 L467.07 181.21 L467.82 181.85 L468.58 182.37 L469.34 182.80 L470.09 183.11 L470.83 183.32 L471.56 183.41 L472.26 183.39 L472.94 183.26" style="fill:none;stroke:#222;stroke-width:1.8;stroke-linejoin:round;stroke-linecap:round"/>
<path d="M473.53 181.68 L474.11 181.46 L474.66 181.14 L475.18 180.72 L475.65 180.20 L476.07 179.59 L476.45 178.90 L476.78 178.13 L477.05 177.28 L477.26 176.36 L477.42 175.38 L477.52 174.35 L477.56 173.27 L477.54 172.15 L477.46 171.01 L477.32 169.84 L477.12 168.66 L476.87 167.48 L476.56 166.30 L476.20 165.14 L475.78 164.00 L475.33 162.90 L474.83 161.83 L474.29 160.82 L473.71 159.86 L473.11 158.97 L472.48 158.14 L471.82 157.40 L471.16 156.73 L470.48 156.16 L469.79 155.67 L469.10 155.29 L468.42 155.00 L467.75 154.81 L467.09 154.72 L466.45 154.74 L465.84 154.86 L465.25 155.09 L464.70 155.41 L464.19 155.83 L463.72 156.35 L463.29 156.95 L462.92 157.65 L462.59 158.42 L462.32 159.27 L462.10 160.18 L461.95 161.16 L461.85 162.20 L461.81 163.28 L461.83 164.39 L461.91 165.54 L462.05 166.71 L462.25 167.89 L462.50 169.07 L462.81 170.24 L463.17 171.41 L463.58 172.54 L464.04 173.65 L464.54 174.71 L465.08 175.73 L465.65 176.68 L466.26 177.58 L466.89 178.40 L467.54 179.15 L468.21 179.81 L468.89 180.39 L469.58 180.87 L470.26 181.26 L470.95 181.55 L471.62 181.74 L472.28 181.82 L472.92 181.80 L473.53 181.68" style="fill:none;stroke:#555;stroke-width:0.9;stroke-linejoin:round;stroke-linecap:round"/>
<path d="M474.12 180.11 L474.64 179.91 L475.13 179.62 L475.59 179.24 L476.01 178.78 L476.39 178.23 L476.73 177.60 L477.02 176.91 L477.26 176.14 L477.45 175.31 L477.59 174.43 L477.68 173.50 L477.71 172.53 L477.69 171.52 L477.61 170.48 L477.49 169.43 L477.31 168.36 L477.08 167.30 L476.80 166.23 L476.47 165.18 L476.10 164.16 L475.69 163.16 L475.24 162.20 L474.75 161.28 L474.24 160.41 L473.69 159.61 L473.13 158.86 L472.54 158.19 L471.94 157.59 L471.33 157.06 L470.71 156.63 L470.10 156.27 L469.49 156.01 L468.88 155.84 L468.29 155.76 L467.72 155.78 L467.17 155.89 L466.65 156.09 L466.16 156.38 L465.70 156.75 L465.28 157.22 L464.90 157.77 L464.56 158.39 L464.27 159.09 L464.03 159.85 L463.84 160.68 L463.70 161.56 L463.61 162.50 L463.58 163.47 L463.60 164.48 L463.68 165.51 L463.80 166.57 L463.98 167.63 L464.21 168.70 L464.49 169.76 L464.82 170.81 L465.19 171.84 L465.60 172.84 L466.05 173.80 L466.54 174.71 L467.05 175.58 L467.60 176.39 L468.16 177.13 L468.75 177.81 L469.35 178.41 L469.96 178.93 L470.58 179.37 L471.19 179.72 L471.80 179.98 L472.41 180.15 L473.00 180.23 L473.57 180.22 L474.12 180.11" style="fill:none;stroke:#333;stroke-width:1.6;stroke-linejoin:round;stroke-linecap:round"/>
<path d="M474.71 178.54 L475.17 178.36 L475.60 178.10 L476.01 177.76 L476.38 177.35 L476.71 176.86 L477.01 176.31 L477.26 175.69 L477.47 175.00 L477.64 174.27 L477.76 173.48 L477.83 172.65 L477.86 171.78 L477.84 170.88 L477.77 169.96 L477.65 169.02 L477.49 168.07 L477.29 167.11 L477.04 166.16 L476.75 165.23 L476.42 164.31 L476.05 163.42 L475.65 162.56 L475.22 161.74 L474.76 160.97 L474.28 160.24 L473.77 159.58 L473.25 158.97 L472.72 158.44 L472.18 157.97 L471.64 157.58 L471.09 157.26 L470.55 157.03 L470.02 156.87 L469.50 156.80 L468.99 156.81 L468.51 156.91 L468.04 157.08 L467.61 157.34 L467.21 157.68 L466.83 158.09 L466.50 158.58 L466.21 159.14 L465.95 159.76 L465.74 160.44 L465.57 161.18 L465.45 161.96 L465.38 162.79 L465.35 163.66 L465.37 164.56 L465.44 165.49 L465.56 166.43 L465.72 167.38 L465.93 168.33 L466.18 169.28 L466.47 170.22 L466.80 171.13 L467.16 172.03 L467.56 172.88 L467.99 173.70 L468.45 174.48 L468.94 175.20 L469.44 175.87 L469.96 176.47 L470.49 177.01 L471.03 177.47 L471.58 177.87 L472.12 178.18 L472.66 178.42 L473.20 178.57 L473.72 178.64 L474.22 178.63 L474.71 178.54" style="fill:none;stroke:#555;stroke-width:0.9;stroke-linejoin:round;stroke-linecap:round"/>
<path d="M475.30 176.96 L475.70 176.81 L476.07 176.58 L476.42 176.29 L476.74 175.93 L477.03 175.50 L477.29 175.01 L477.50 174.47 L477.69 173.87 L477.83 173.22 L477.93 172.53 L477.99 171.80 L478.01 171.03 L477.99 170.24 L477.93 169.43 L477.82 168.60 L477.68 167.77 L477.50 166.93 L477.28 166.10 L477.02 165.27 L476.73 164.46 L476.41 163.68 L476.06 162.92 L475.68 162.20 L475.28 161.52 L474.86 160.88 L474.42 160.29 L473.97 159.76 L473.50 159.29 L473.03 158.88 L472.56 158.53 L472.09 158.25 L471.61 158.04 L471.15 157.90 L470.70 157.84 L470.26 157.85 L469.84 157.93 L469.44 158.08 L469.06 158.31 L468.71 158.60 L468.39 158.97 L468.10 159.39 L467.85 159.88 L467.63 160.43 L467.45 161.02 L467.31 161.67 L467.21 162.36 L467.14 163.09 L467.12 163.86 L467.15 164.65 L467.21 165.46 L467.31 166.29 L467.46 167.12 L467.64 167.96 L467.86 168.80 L468.11 169.62 L468.40 170.43 L468.72 171.21 L469.07 171.97 L469.45 172.69 L469.85 173.37 L470.27 174.01 L470.71 174.60 L471.17 175.13 L471.63 175.60 L472.10 176.02 L472.58 176.36 L473.05 176.64 L473.52 176.85 L473.98 176.99 L474.44 177.05 L474.88 177.04 L475.30 176.96" style="fill:none;stroke:#444;stroke-width:1.2;stroke-linejoin:round;stroke-linecap:round"/>
</svg></body></html>
